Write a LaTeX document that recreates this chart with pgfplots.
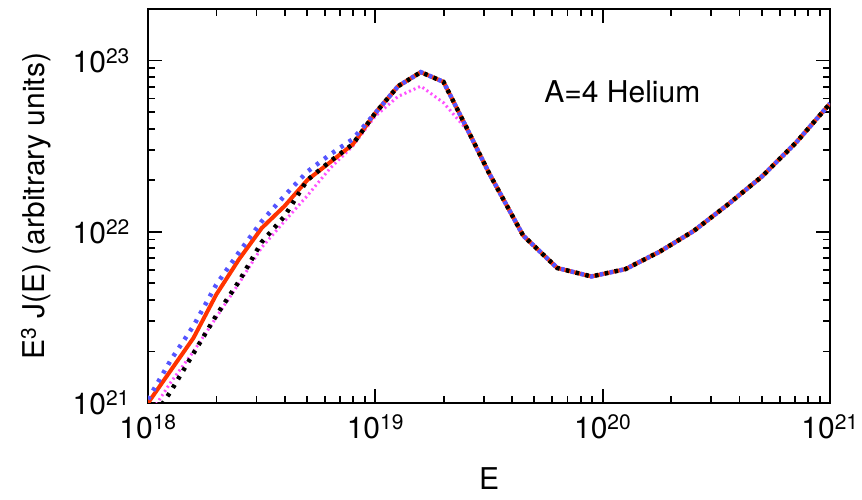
\documentclass[border=0pt]{standalone}
\usepackage{pgfplots}
\pgfplotsset{compat=1.18}
\usepackage{fontspec}
\setmainfont{TeX Gyre Heros}
\definecolor{cred}{RGB}{255,51,0}
\definecolor{cblue}{RGB}{85,85,255}
\definecolor{cmag}{RGB}{255,80,255}
\begin{document}
\fontsize{30}{36}\selectfont
\begin{tikzpicture}
\begin{axis}[
  xmode=log, ymode=log,
  scale only axis, width=682pt, height=394pt,
  xmin=1e18, xmax=1e21, ymin=1e21, ymax=2e23,
  xtick={1e18,1e19,1e20,1e21},
  xticklabels={10\textsuperscript{18},10\textsuperscript{19},10\textsuperscript{20},10\textsuperscript{21}},
  ytick={1e21,1e22,1e23},
  yticklabels={10\textsuperscript{21},10\textsuperscript{22},10\textsuperscript{23}},
  minor xtick={2e18,3e18,4e18,5e18,6e18,7e18,8e18,9e18,2e19,3e19,4e19,5e19,6e19,7e19,8e19,9e19,2e20,3e20,4e20,5e20,6e20,7e20,8e20,9e20},
  minor ytick={2e21,3e21,4e21,5e21,6e21,7e21,8e21,9e21,2e22,3e22,4e22,5e22,6e22,7e22,8e22,9e22,2e23},
  tick align=inside,
  major tick length=14pt, minor tick length=7pt,
  axis line style={line width=2.2pt},
  every tick/.style={line width=1.8pt, black},
  tick label style={font=\fontsize{30}{36}\selectfont},
  xticklabel style={inner sep=2pt, yshift=-9pt},
  yticklabel style={xshift=-8pt},
  label style={font=\fontsize{30}{36}\selectfont},
  xlabel={E},
  xlabel style={yshift=-17pt},
  ylabel={E\textsuperscript{3} J(E) (arbitrary units)},
  ylabel style={yshift=1pt},
  clip=true,
]
% magenta dotted
\addplot[cmag, line width=3pt, dash pattern=on 2pt off 3pt] coordinates {
(1e18,8.3e20) (1.259e18,1.32e21) (1.585e18,2.0e21) (1.995e18,3.16e21) (2.512e18,5.0e21)
(3.162e18,8.1e21) (3.981e18,1.15e22) (5.012e18,1.62e22) (6.31e18,2.34e22) (7.943e18,3.16e22)
(1e19,4.74e22) (1.259e19,6.17e22) (1.585e19,7.08e22) (1.995e19,5.66e22) (2.512e19,3.98e22)
(3.162e19,2.2e22) (4.467e19,9.5e21) (6.31e19,6.14e21) (8.913e19,5.48e21) (1.259e20,6.05e21)
(1.778e20,7.64e21) (2.512e20,1.01e22) (3.548e20,1.44e22) (5.012e20,2.1e22) (7.079e20,3.31e22) (1e21,5.61e22)
};
% red solid
\addplot[cred, line width=4pt] coordinates {
(1e18,1.0e21) (1.259e18,1.55e21) (1.585e18,2.4e21) (1.995e18,4.29e21) (2.512e18,6.9e21)
(3.162e18,1.05e22) (3.981e18,1.41e22) (5.012e18,2.0e22) (6.31e18,2.54e22) (7.943e18,3.23e22)
(1e19,4.94e22) (1.259e19,7.08e22) (1.585e19,8.55e22) (1.995e19,7.5e22) (2.512e19,4.08e22)
(3.162e19,2.2e22) (4.467e19,9.5e21) (6.31e19,6.14e21) (8.913e19,5.48e21) (1.259e20,6.05e21)
(1.778e20,7.64e21) (2.512e20,1.01e22) (3.548e20,1.44e22) (5.012e20,2.1e22) (7.079e20,3.31e22) (1e21,5.61e22)
};
% blue dotted
\addplot[cblue, line width=4.5pt, dash pattern=on 3.5pt off 6.5pt] coordinates {
(1e18,1.05e21) (1.259e18,1.78e21) (1.585e18,2.82e21) (1.995e18,4.9e21) (2.512e18,7.59e21)
(3.162e18,1.15e22) (3.981e18,1.62e22) (5.012e18,2.24e22) (6.31e18,2.82e22) (7.943e18,3.47e22)
(1e19,4.94e22) (1.259e19,7.08e22) (1.585e19,8.55e22) (1.995e19,7.5e22) (2.512e19,4.08e22)
(3.162e19,2.2e22) (4.467e19,9.5e21) (6.31e19,6.14e21) (8.913e19,5.48e21) (1.259e20,6.05e21)
(1.778e20,7.64e21) (2.512e20,1.01e22) (3.548e20,1.44e22) (5.012e20,2.1e22) (7.079e20,3.31e22) (1e21,5.61e22)
};
% black dotted
\addplot[black, line width=4.5pt, dash pattern=on 3.5pt off 6.5pt, dash phase=5pt] coordinates {
(1e18,7.4e20) (1.259e18,1.17e21) (1.585e18,1.95e21) (1.995e18,3.24e21) (2.512e18,5.13e21)
(3.162e18,8.7e21) (3.981e18,1.23e22) (5.012e18,2.0e22) (6.31e18,2.57e22) (7.943e18,3.24e22)
(1e19,4.94e22) (1.259e19,7.08e22) (1.585e19,8.55e22) (1.995e19,7.5e22) (2.512e19,4.08e22)
(3.162e19,2.2e22) (4.467e19,9.5e21) (6.31e19,6.14e21) (8.913e19,5.48e21) (1.259e20,6.05e21)
(1.778e20,7.64e21) (2.512e20,1.01e22) (3.548e20,1.44e22) (5.012e20,2.1e22) (7.079e20,3.31e22) (1e21,5.61e22)
};
\node[font=\fontsize{30}{36}\selectfont] at (axis cs:1.22e20,6.6e22) {A=4 Helium};
\end{axis}
\pgfresetboundingbox
\path[use as bounding box] ([xshift=-148pt,yshift=-96pt]current axis.south west) rectangle ([xshift=32pt,yshift=9pt]current axis.north east);
\end{tikzpicture}
\end{document}
